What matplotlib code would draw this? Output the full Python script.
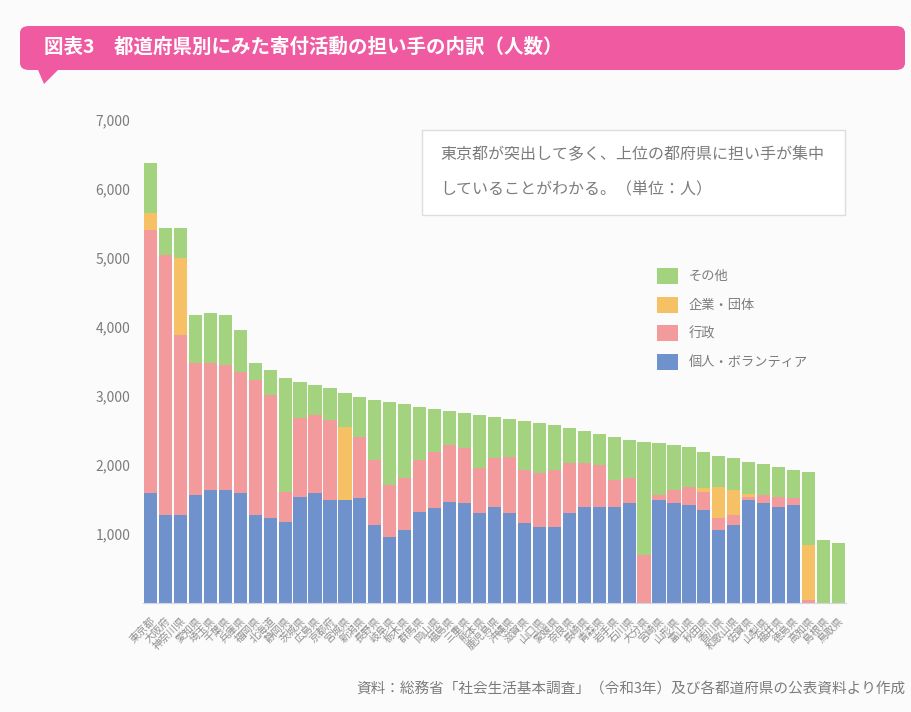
import matplotlib
matplotlib.use("Agg")
import matplotlib.pyplot as plt
from matplotlib.patches import FancyBboxPatch, Polygon, Rectangle
import numpy as np

plt.rcParams['font.family'] = ['Noto Sans CJK JP', 'DejaVu Sans']

# 都道府県（合計の多い順）
prefs = ["東京都", "大阪府", "神奈川県", "愛知県", "埼玉県", "千葉県", "兵庫県", "福岡県",
         "北海道", "静岡県", "茨城県", "広島県", "京都府", "宮城県", "新潟県", "長野県",
         "岐阜県", "栃木県", "群馬県", "岡山県", "福島県", "三重県", "熊本県", "鹿児島県",
         "沖縄県", "滋賀県", "山口県", "愛媛県", "奈良県", "長崎県", "青森県", "岩手県",
         "石川県", "大分県", "宮崎県", "山形県", "富山県", "秋田県", "香川県", "和歌山県",
         "佐賀県", "山梨県", "福井県", "徳島県", "高知県", "島根県", "鳥取県"]

series_names = ["個人・ボランティア", "行政", "企業・団体", "その他"]

blue = [1590, 1275, 1275, 1565, 1637, 1637, 1594, 1275, 1232, 1174, 1536, 1594, 1493, 1493,
        1522, 1130, 956, 1058, 1319, 1377, 1464, 1449, 1304, 1391, 1304, 1159, 1101, 1101,
        1304, 1391, 1391, 1391, 1449, 0, 1493, 1449, 1420, 1348, 1058, 1130, 1493, 1449,
        1391, 1420, 0, 0, 0]
pink = [3811, 3768, 2608, 1913, 1840, 1811, 1753, 1956, 1782, 435, 1145, 1130, 1159, 0,
        884, 942, 754, 754, 754, 811, 826, 797, 652, 710, 811, 768, 782, 826,
        725, 638, 609, 391, 362, 696, 72, 188, 261, 261, 174, 145, 43, 116,
        145, 101, 43, 0, 0]
yellow = [246, 0, 1116, 0, 0, 0, 0, 0, 0, 0, 0, 0, 0, 1058,
          0, 0, 0, 0, 0, 0, 0, 0, 0, 0, 0, 0, 0, 0,
          0, 0, 0, 0, 0, 0, 0, 0, 0, 58, 449, 362, 43, 0,
          0, 0, 797, 0, 0]
green = [725, 391, 435, 696, 725, 725, 609, 246, 362, 1652, 522, 435, 464, 493,
         580, 870, 1203, 1072, 768, 623, 493, 507, 768, 594, 551, 710, 725, 652,
         507, 464, 449, 623, 551, 1637, 754, 652, 580, 522, 449, 464, 464, 449,
         435, 406, 1058, 913, 870]

yticks = [1000, 2000, 3000, 4000, 5000, 6000, 7000]

colors = ["#6f92cc", "#f39a9c", "#f6c064", "#a3d37f"]
text_grey = "#7c7c7c"

fig = plt.figure(figsize=(9.12, 7.12), dpi=100)
fig.patch.set_facecolor("#fbfbfb")

# title banner
fig.patches.append(FancyBboxPatch((20 / 912, 1 - 70 / 712), 885 / 912, 44 / 712,
                                  boxstyle="round,pad=0,rounding_size=0.01",
                                  transform=fig.transFigure, facecolor="#ef5aa0",
                                  edgecolor="none"))
fig.patches.append(Polygon([[38 / 912, 1 - 70 / 712], [58 / 912, 1 - 70 / 712],
                            [44 / 912, 1 - 84 / 712]], closed=True,
                           transform=fig.transFigure, facecolor="#ef5aa0", edgecolor="none"))
fig.text(44 / 912, 1 - 47 / 712, "図表3　都道府県別にみた寄付活動の担い手の内訳（人数）",
         color="white", fontsize=14, fontweight="bold", va="center", ha="left")

ax = fig.add_axes([143 / 912, 1 - 603 / 712, 703 / 912, 483 / 712])
ax.set_facecolor("none")

x = np.arange(len(prefs))
bottom = np.zeros(len(prefs))
for name, vals, col in zip(series_names, [blue, pink, yellow, green], colors):
    ax.bar(x, vals, width=0.88, bottom=bottom, color=col, label=name, linewidth=0)
    bottom += np.array(vals)

ax.set_xlim(-0.5, len(prefs) - 0.5)
ax.set_ylim(0, 7000)
ax.set_yticks(yticks)
ax.set_yticklabels([f"{v:,}" for v in yticks], color=text_grey, fontsize=10)
ax.set_xticks(x)
ax.set_xticklabels(prefs, rotation=45, ha="right", rotation_mode="anchor",
                   fontsize=7.5, color="#8e8e8e")
ax.tick_params(length=0, pad=9)
for side in ["top", "right", "left"]:
    ax.spines[side].set_visible(False)
ax.spines["bottom"].set_color("#d0d6e4")

# legend (top item first)
handles, labels = ax.get_legend_handles_labels()
leg = ax.legend(handles[::-1], labels[::-1], loc="upper left",
                bbox_to_anchor=(645 / 912, 1 - 256 / 712), bbox_transform=fig.transFigure,
                frameon=False, fontsize=9.5, handlelength=1.6, handleheight=1.5,
                labelspacing=0.95, handletextpad=0.8)
for t in leg.get_texts():
    t.set_color(text_grey)

# comment box
fig.patches.append(Rectangle((422 / 912, 1 - 215 / 712), 423 / 912, 85 / 712,
                             transform=fig.transFigure, facecolor="white",
                             edgecolor="#dddddd", linewidth=1))
fig.text(440 / 912, 1 - 155 / 712, "東京都が突出して多く、上位の都府県に担い手が集中",
         color=text_grey, fontsize=11.5, va="center", ha="left")
fig.text(440 / 912, 1 - 190 / 712, "していることがわかる。（単位：人）",
         color=text_grey, fontsize=11.5, va="center", ha="left")

# source
fig.text(905 / 912, 1 - 690 / 712,
         "資料：総務省「社会生活基本調査」（令和3年）及び各都道府県の公表資料より作成",
         color=text_grey, fontsize=10.5, va="center", ha="right")

fig.savefig("out.png", dpi=100, facecolor=fig.get_facecolor())
